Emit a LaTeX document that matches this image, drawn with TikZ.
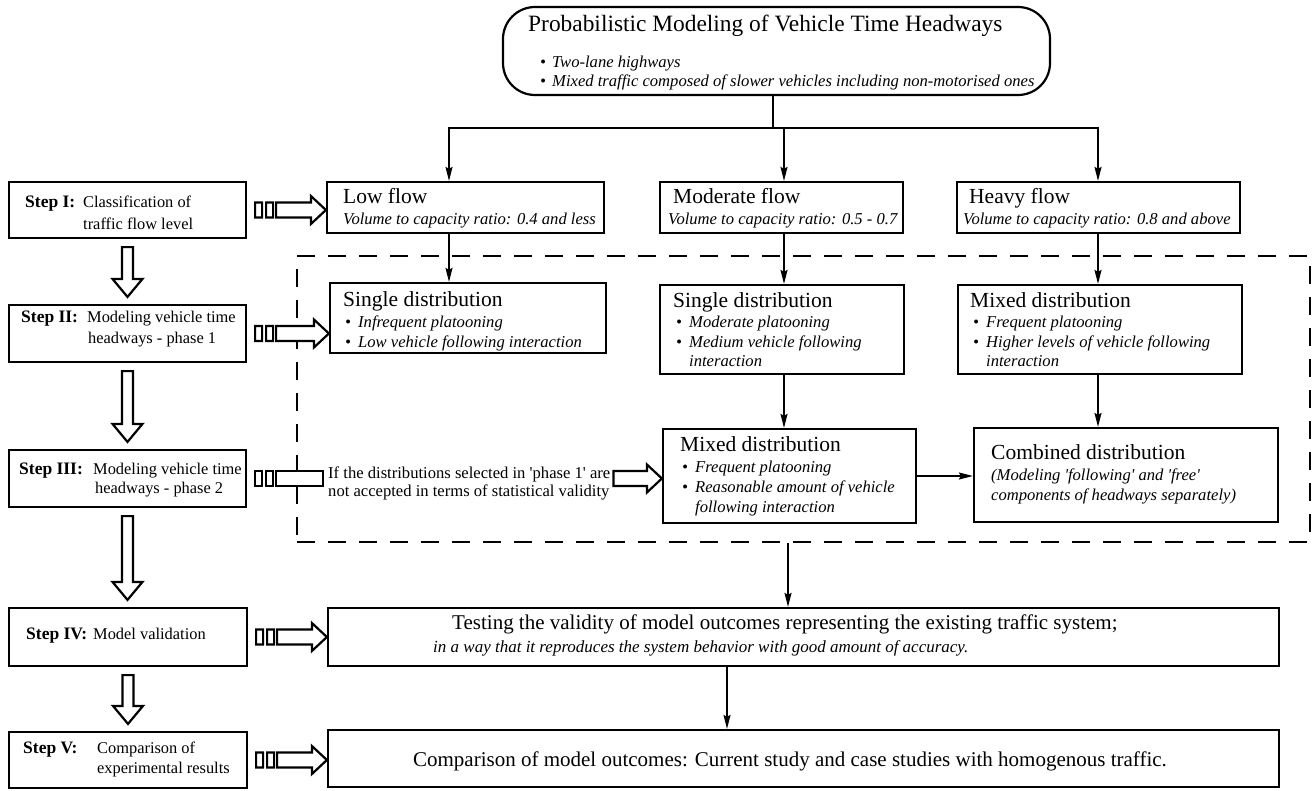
\documentclass[tikz,border=0pt]{standalone}
\usepackage{fontspec}
\setmainfont{Liberation Serif}
\usetikzlibrary{arrows.meta,calc}
\newcommand\bl[1]{\makebox[#1][l]{\textbullet}}
\newcommand\q{\textquotesingle}
\tikzset{
  box/.style={draw, line width=2.2pt, inner sep=0pt},
  topbox/.style={draw, line width=2.2pt, inner sep=0pt, rounded corners=32pt},
  dashbox/.style={draw, line width=2.6pt, dash pattern=on 18pt off 13pt, inner sep=0pt},
  txt/.style={inner sep=0pt, anchor=base west},
  ln/.style={line width=1.8pt},
  arr/.style={line width=1.8pt, -{Stealth[length=14pt,width=7pt,inset=2pt]}},
  hol/.style={line width=2.2pt, fill=white},
  fT/.style={font=\fontsize{23.4}{27}\selectfont},
  fH/.style={font=\fontsize{21.5}{25}\selectfont},
  fI/.style={font=\fontsize{16.6}{19}\selectfont\itshape},
  fS/.style={font=\fontsize{16.4}{19}\selectfont},
  fB/.style={font=\fontsize{17.5}{19}\selectfont\bfseries},
  fL/.style={font=\fontsize{21}{25}\selectfont},
  fIs/.style={font=\fontsize{17}{19}\selectfont\itshape},
  fC/.style={font=\fontsize{16.6}{19}\selectfont},
}
\newcommand\hdown[2]{\draw[hol] let \p1=(#1.south), \p2=(#2.north) in
  (\x1-5.5pt,\y1-8pt) -- (\x1-5.5pt,\y2+25pt) -- (\x1-15pt,\y2+25pt) -- (\x1,\y2+7pt)
  -- (\x1+15pt,\y2+25pt) -- (\x1+5.5pt,\y2+25pt) -- (\x1+5.5pt,\y1-8pt) -- cycle;}
\newcommand\hright[2]{\draw[hol] let \p1=(#1.east), \p2=(#2.west) in
  (\x1+8pt,\y1-7.5pt) rectangle (\x1+15pt,\y1+7.5pt)
  (\x1+19pt,\y1-7.5pt) rectangle (\x1+26pt,\y1+7.5pt)
  (\x1+29pt,\y1-7.5pt) -- (\x2-15pt,\y1-7.5pt) -- (\x2-15pt,\y1-14pt) -- (\x2,\y1)
  -- (\x2-15pt,\y1+14pt) -- (\x2-15pt,\y1+7.5pt) -- (\x1+29pt,\y1+7.5pt) -- cycle;}
\begin{document}
\begin{tikzpicture}[x=1pt,y=-1pt]
\useasboundingbox (0,0) rectangle (1312,790);
% dashed frame
\node[dashbox, minimum width=1013pt, minimum height=286pt] (dash) at (803.5,399) {};
% boxes
\node[topbox, minimum width=547pt, minimum height=88pt] (top) at (776.5,51) {};
\node[box, minimum width=237pt, minimum height=56pt] (step1) at (127.5,210) {};
\node[box, minimum width=237pt, minimum height=57pt] (step2) at (127.5,333.5) {};
\node[box, minimum width=237pt, minimum height=57pt] (step3) at (127.5,478.5) {};
\node[box, minimum width=238pt, minimum height=58pt] (step4) at (128,637) {};
\node[box, minimum width=238pt, minimum height=56pt] (step5) at (128,760) {};
\node[box, minimum width=277pt, minimum height=51pt] (low) at (465.5,207.5) {};
\node[box, minimum width=243pt, minimum height=51pt] (mod) at (781.5,207.5) {};
\node[box, minimum width=283pt, minimum height=51pt] (heavy) at (1098.5,207.5) {};
\node[box, minimum width=276pt, minimum height=70pt] (s1) at (468,318) {};
\node[box, minimum width=244pt, minimum height=89pt] (s2) at (782,329.5) {};
\node[box, minimum width=284pt, minimum height=89pt] (s3) at (1100,329.5) {};
\node[box, minimum width=253pt, minimum height=94pt] (mx) at (789.5,476) {};
\node[box, minimum width=304pt, minimum height=94pt] (cb) at (1126,475) {};
\node[box, minimum width=951pt, minimum height=58pt] (test) at (803.5,637) {};
\node[box, minimum width=951pt, minimum height=57pt] (comp) at (803.5,758.5) {};
% texts
\node[txt, fT] (topT) at (528,31) {Probabilistic Modeling of Vehicle Time Headways};
\node[txt, fI] (topA) at (540,67) {\bl{12pt}Two-lane highways};
\node[txt, fI] (topB) at (540,86) {\bl{12pt}Mixed traffic composed of slower vehicles including non-motorised ones};
\node[txt, fB] (st1a) at (25,207) {Step I:};
\node[txt, fS] (st1b) at (83,207) {Classification of};
\node[txt, fS] (st1c) at (83,229) {traffic flow level};
\node[txt, fB] (st2a) at (21,322) {Step II:};
\node[txt, fS] (st2b) at (87,322) {Modeling vehicle time};
\node[txt, fS] (st2c) at (88,343) {headways - phase 1};
\node[txt, fB] (st3a) at (19,474) {Step III:};
\node[txt, fS] (st3b) at (93,474) {Modeling vehicle time};
\node[txt, fS] (st3c) at (95,493) {headways - phase 2};
\node[txt, fB] (st4a) at (26,639) {Step IV:};
\node[txt, fS] (st4b) at (93,639) {Model validation};
\node[txt, fB] (st5a) at (23,753) {Step V:};
\node[txt, fS] (st5b) at (97,753) {Comparison of};
\node[txt, fS] (st5c) at (97,773) {experimental results};
\node[txt, fH] (lowa) at (343,203) {Low flow};
\node[txt, fI] (lowb) at (343,224) {Volume to capacity ratio: 0.4 and less};
\node[txt, fH] (moda) at (673,203) {Moderate flow};
\node[txt, fI] (modb) at (668,224) {Volume to capacity ratio: 0.5 - 0.7};
\node[txt, fH] (heava) at (969,203) {Heavy flow};
\node[txt, fI] (heavb) at (963,224) {Volume to capacity ratio: 0.8 and above};
\node[txt, fH] (s1a) at (343,306) {Single distribution};
\node[txt, fI] (s1b) at (345,327) {\bl{13pt}Infrequent platooning};
\node[txt, fI] (s1c) at (345,347) {\bl{13pt}Low vehicle following interaction};
\node[txt, fH] (s2a) at (673,307) {Single distribution};
\node[txt, fI] (s2b) at (676,327) {\bl{13pt}Moderate platooning};
\node[txt, fI] (s2c) at (676,347) {\bl{13pt}Medium vehicle following};
\node[txt, fI] (s2d) at (689,366) {interaction};
\node[txt, fH] (s3a) at (970,307) {Mixed distribution};
\node[txt, fI] (s3b) at (973,327) {\bl{13pt}Frequent platooning};
\node[txt, fI] (s3c) at (973,347) {\bl{13pt}Higher levels of vehicle following};
\node[txt, fI] (s3d) at (986,366) {interaction};
\node[txt, fH] (mxa) at (680,451) {Mixed distribution};
\node[txt, fI] (mxb) at (682,472) {\bl{13pt}Frequent platooning};
\node[txt, fI] (mxc) at (682,492) {\bl{13pt}Reasonable amount of vehicle};
\node[txt, fI] (mxd) at (695,512) {following interaction};
\node[txt, fH] (cba) at (991,459) {Combined distribution};
\node[txt, fI] (cbb) at (991,480) {(Modeling \q following\q{} and \q free\q};
\node[txt, fI] (cbc) at (991,500) {components of headways separately)};
\node[txt, fC] (cond1) at (328,478) {If the distributions selected in \q phase 1\q{} are};
\node[txt, fC] (cond2) at (328,496) {not accepted in terms of statistical validity};
\node[txt, fL] (testa) at (452,629) {Testing the validity of model outcomes representing the existing traffic system;};
\node[txt, fIs] (testb) at (433,652) {in a way that it reproduces the system behavior with good amount of accuracy.};
\node[inner sep=0pt, fL, anchor=base] (compa) at (790,766) {Comparison of model outcomes: Current study and case studies with homogenous traffic.};
% column coordinates
\coordinate (j) at (773,128);
\coordinate (cL) at (449,0);
\coordinate (cM) at (784,0);
\coordinate (cH) at (1098,0);
\coordinate (cT) at (788,0);
\coordinate (cC) at (727,0);
% connectors
\draw[ln] (top.south -| j) -- (j);
\draw[arr] (j) -| (cL |- low.north);
\draw[arr] (j) -| (cM |- mod.north);
\draw[arr] (j) -| (cH |- heavy.north);
\draw[arr] (cL |- low.south) -- (cL |- s1.north);
\draw[arr] (cM |- mod.south) -- (cM |- s2.north);
\draw[arr] (cH |- heavy.south) -- (cH |- s3.north);
\draw[arr] (cM |- s2.south) -- (cM |- mx.north);
\draw[arr] (cH |- s3.south) -- (cH |- cb.north);
\draw[arr] (mx.east) -- (mx.east -| cb.west);
\draw[arr] (cT |- dash.south) -- (cT |- test.north);
\draw[arr] (cC |- test.south) -- (cC |- comp.north);
% hollow arrows
\hdown{step1}{step2}
\hdown{step2}{step3}
\hdown{step3}{step4}
\hdown{step4}{step5}
\hright{step1}{low}
\hright{step2}{s1}
\hright{step4}{test}
\hright{step5}{comp}
\draw[hol] let \p1=(step3.east), \p2=(cond1.west) in
  (\x1+8pt,\y1-7.5pt) rectangle (\x1+15pt,\y1+7.5pt)
  (\x1+19pt,\y1-7.5pt) rectangle (\x1+26pt,\y1+7.5pt)
  (\x1+29pt,\y1-7.5pt) rectangle (\x2-5pt,\y1+7.5pt);
\draw[hol] let \p1=(cond1.east), \p2=(mx.west), \p3=(step3.east) in
  (\x1+3pt,\y3-7.5pt) -- (\x2-15pt,\y3-7.5pt) -- (\x2-15pt,\y3-14pt) -- (\x2,\y3)
  -- (\x2-15pt,\y3+14pt) -- (\x2-15pt,\y3+7.5pt) -- (\x1+3pt,\y3+7.5pt) -- cycle;
\end{tikzpicture}
\end{document}
